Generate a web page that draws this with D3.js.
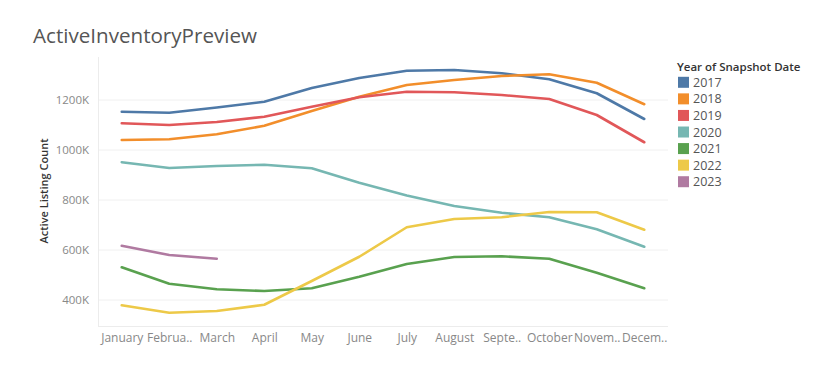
<!DOCTYPE html>
<html>
<head>
<meta charset="utf-8">
<script src="https://cdn.jsdelivr.net/npm/d3@7"></script>
<style>
  body { margin: 0; background: #fff; }
  text { font-family: "Open Sans", Lato, sans-serif; }
</style>
</head>
<body>
<div id="chart"></div>
<script>
// month labels as shown (truncated like the source)
const months = ["January", "Februa..", "March", "April", "May", "June", "July",
                "August", "Septe..", "October", "Novem..", "Decem.."];
const years = ["2017", "2018", "2019", "2020", "2021", "2022", "2023"];
const yearColors = ["#4e79a7", "#f28e2b", "#e15759", "#76b7b2", "#59a14f", "#edc948", "#b07aa1"];

// active listing counts, in thousands
const v2017 = [1153, 1149, 1170, 1193, 1248, 1288, 1317, 1320, 1307, 1283, 1227, 1124];
const v2018 = [1040, 1043, 1063, 1097, 1156, 1213, 1260, 1280, 1296, 1303, 1269, 1183];
const v2019 = [1107, 1100, 1112, 1133, 1173, 1211, 1233, 1231, 1220, 1204, 1140, 1031];
const v2020 = [951, 928, 936, 941, 927, 869, 818, 776, 749, 731, 683, 613];
const v2021 = [531, 465, 443, 436, 447, 493, 544, 572, 575, 565, 509, 447];
const v2022 = [379, 349, 356, 381, 476, 573, 691, 724, 731, 752, 751, 681];
const v2023 = [617, 580, 565];
const yTicks = [400, 600, 800, 1000, 1200];

const series = [v2017, v2018, v2019, v2020, v2021, v2022, v2023];

const svg = d3.select("#chart").append("svg")
    .attr("width", 832)
    .attr("height", 386);

const plot = { left: 98, right: 668, top: 57, bottom: 326 };

const x = d3.scalePoint()
    .domain(months)
    .range([plot.left, plot.right])
    .padding(0.5);

const y = d3.scaleLinear()
    .domain([296, 1372])
    .range([plot.bottom, plot.top]);

// title
svg.append("text")
    .attr("x", 33)
    .attr("y", 43)
    .attr("font-size", 20.6)
    .attr("fill", "#555")
    .text("ActiveInventoryPreview");

// gridlines
svg.append("g")
    .selectAll("line")
    .data(yTicks)
    .enter()
    .append("line")
    .attr("x1", plot.left)
    .attr("x2", plot.right)
    .attr("y1", d => y(d))
    .attr("y2", d => y(d))
    .attr("stroke", "#f0f0f0")
    .attr("stroke-width", 1);

// plot frame (left + bottom)
svg.append("line")
    .attr("x1", plot.left + 0.5).attr("x2", plot.left + 0.5)
    .attr("y1", plot.top).attr("y2", plot.bottom)
    .attr("stroke", "#ececec");
svg.append("line")
    .attr("x1", plot.left).attr("x2", plot.right)
    .attr("y1", plot.bottom + 0.5).attr("y2", plot.bottom + 0.5)
    .attr("stroke", "#ececec");

// y axis
const yAxis = svg.append("g")
    .attr("transform", `translate(${plot.left - 6},0)`)
    .call(d3.axisLeft(y).tickValues(yTicks).tickSize(0).tickFormat(d => d + "K"));
yAxis.select(".domain").remove();
yAxis.selectAll("text")
    .attr("font-family", "'Open Sans', Lato, sans-serif")
    .attr("font-size", 11.5)
    .attr("fill", "#888");

// x axis
const xAxis = svg.append("g")
    .attr("transform", `translate(0,${plot.bottom + 4})`)
    .call(d3.axisBottom(x).tickSize(0));
xAxis.select(".domain").remove();
xAxis.selectAll("text")
    .attr("font-family", "'Open Sans', Lato, sans-serif")
    .attr("font-size", 12)
    .attr("fill", "#888");

// y axis title
svg.append("text")
    .attr("transform", "translate(48,191) rotate(-90)")
    .attr("text-anchor", "middle")
    .attr("font-size", 11)
    .attr("font-weight", 600)
    .attr("fill", "#333")
    .text("Active Listing Count");

// lines
const line = d3.line()
    .x((d, i) => x(months[i]))
    .y(d => y(d));

svg.append("g")
    .selectAll("path")
    .data(series)
    .enter()
    .append("path")
    .attr("d", d => line(d))
    .attr("fill", "none")
    .attr("stroke", (d, i) => yearColors[i])
    .attr("stroke-width", 2.6)
    .attr("stroke-linejoin", "round")
    .attr("stroke-linecap", "round");

// legend
const legend = svg.append("g").attr("transform", "translate(677,0)");
legend.append("text")
    .attr("x", 0)
    .attr("y", 71)
    .attr("font-size", 11.5)
    .attr("font-weight", 600)
    .attr("fill", "#333")
    .text("Year of Snapshot Date");

const items = legend.selectAll(".item")
    .data(years)
    .enter()
    .append("g")
    .attr("transform", (d, i) => `translate(0,${82.3 + i * 16.57})`);
items.append("rect")
    .attr("x", 1)
    .attr("y", -5.5)
    .attr("width", 11)
    .attr("height", 11)
    .attr("fill", (d, i) => yearColors[i]);
items.append("text")
    .attr("x", 16)
    .attr("y", 4.5)
    .attr("font-size", 12.5)
    .attr("fill", "#555")
    .text(d => d);
</script>
</body>
</html>
